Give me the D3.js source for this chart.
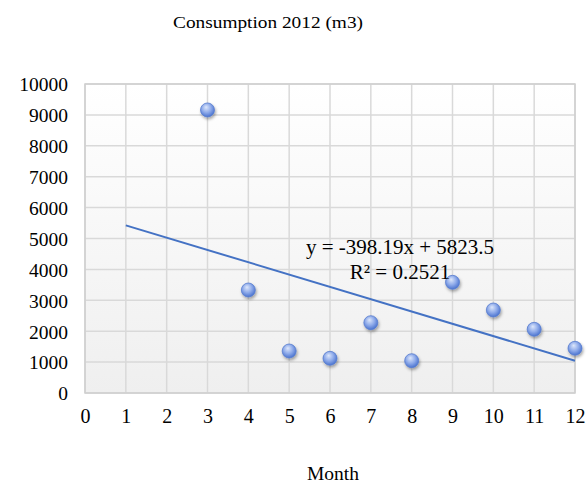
<!DOCTYPE html>
<html>
<head>
<meta charset="utf-8">
<script src="https://cdn.jsdelivr.net/npm/d3@7"></script>
<style>
  html, body { margin: 0; padding: 0; background: #fff; }
  svg text { font-family: "Liberation Serif", "Times New Roman", serif; fill: #000; }
</style>
</head>
<body>
<svg id="chart" width="587" height="486"></svg>
<script>
// Monthly water consumption, 2012 (m3)
const months = [3, 4, 5, 6, 7, 8, 9, 10, 11, 12];
const consumption = [9160, 3333, 1359, 1123, 2275, 1045, 3582, 2686, 2061, 1447];
const xTicks = [0, 1, 2, 3, 4, 5, 6, 7, 8, 9, 10, 11, 12];
const yTicks = [0, 1000, 2000, 3000, 4000, 5000, 6000, 7000, 8000, 9000, 10000];
// Linear trend line
const trendSlope = -398.19;
const trendIntercept = 5823.5;
const trendRange = [1, 12];
const rSquared = "0.2521";

const svg = d3.select("#chart");
const m = { left: 85, right: 12, top: 84, bottom: 93 };
const W = 587, H = 486;

const x = d3.scaleLinear().domain([0, 12]).range([m.left, W - m.right]);
const y = d3.scaleLinear().domain([0, 10000]).range([H - m.bottom, m.top]);

const defs = svg.append("defs");
const bg = defs.append("linearGradient").attr("id", "plotBg")
  .attr("x1", 0).attr("y1", 0).attr("x2", 0).attr("y2", 1);
bg.append("stop").attr("offset", "0%").attr("stop-color", "#ffffff");
bg.append("stop").attr("offset", "100%").attr("stop-color", "#efefef");

const mk = defs.append("radialGradient").attr("id", "marker")
  .attr("cx", "45%").attr("cy", "40%").attr("r", "60%").attr("fx", "40%").attr("fy", "30%");
mk.append("stop").attr("offset", "0%").attr("stop-color", "#dde7fb");
mk.append("stop").attr("offset", "55%").attr("stop-color", "#8fabea");
mk.append("stop").attr("offset", "100%").attr("stop-color", "#4a73cf");

const sh = defs.append("filter").attr("id", "shadow")
  .attr("x", "-50%").attr("y", "-50%").attr("width", "200%").attr("height", "200%");
sh.append("feDropShadow").attr("dx", 1).attr("dy", 2).attr("stdDeviation", 1.6)
  .attr("flood-color", "#000").attr("flood-opacity", 0.35);

// Plot background
svg.append("rect")
  .attr("x", x(0)).attr("y", y(10000))
  .attr("width", x(12) - x(0)).attr("height", y(0) - y(10000))
  .attr("fill", "url(#plotBg)");

// Gridlines
svg.append("g").selectAll("line").data(xTicks).join("line")
  .attr("x1", d => x(d)).attr("x2", d => x(d))
  .attr("y1", y(0)).attr("y2", y(10000))
  .attr("stroke", "#d9d9d9").attr("stroke-width", 1.5);
svg.append("g").selectAll("line").data(yTicks).join("line")
  .attr("x1", x(0)).attr("x2", x(12))
  .attr("y1", d => y(d)).attr("y2", d => y(d))
  .attr("stroke", "#d9d9d9").attr("stroke-width", 1.5);

// Axes
const yAxis = d3.axisLeft(y).tickValues(yTicks).tickSize(0).tickPadding(17).tickFormat(d3.format("d"));
svg.append("g").attr("transform", `translate(${x(0)},0)`).call(yAxis)
  .call(g => g.select(".domain").remove())
  .call(g => g.selectAll("text").attr("font-size", 19.5).attr("dy", "0.35em")
    .style("font-family", "Liberation Serif, serif"));

const xAxis = d3.axisBottom(x).tickValues(xTicks).tickSize(0).tickPadding(16).tickFormat(d3.format("d"));
svg.append("g").attr("transform", `translate(0,${y(0)})`).call(xAxis)
  .call(g => g.select(".domain").remove())
  .call(g => g.selectAll("text").attr("font-size", 20)
    .style("font-family", "Liberation Serif, serif"));

// Plot frame
svg.append("rect")
  .attr("x", x(0)).attr("y", y(10000))
  .attr("width", x(12) - x(0)).attr("height", y(0) - y(10000))
  .attr("fill", "none").attr("stroke", "#cfcfcf").attr("stroke-width", 1.5);

// Trend line
const line = d3.line().x(d => x(d)).y(d => y(trendSlope * d + trendIntercept));
svg.append("path").datum(trendRange)
  .attr("d", line).attr("fill", "none")
  .attr("stroke", "#4472c4").attr("stroke-width", 2);

// Data points
svg.append("g").selectAll("circle").data(months).join("circle")
  .attr("cx", d => x(d))
  .attr("cy", (d, i) => y(consumption[i]))
  .attr("r", 7)
  .attr("fill", "url(#marker)")
  .attr("stroke", "#5b7fcf").attr("stroke-width", 0.8)
  .attr("filter", "url(#shadow)");

// Trend equation
const eq = svg.append("g").attr("text-anchor", "middle").attr("font-size", 21);
eq.append("text").attr("x", 400).attr("y", 254)
  .text(`y = ${trendSlope}x + ${trendIntercept}`);
eq.append("text").attr("x", 400).attr("y", 279)
  .text(`R² = ${rSquared}`);

// Titles
svg.append("text").attr("x", 268).attr("y", 28).attr("text-anchor", "middle")
  .attr("font-size", 17.5).attr("textLength", 190).attr("lengthAdjust", "spacingAndGlyphs")
  .text("Consumption 2012 (m3)");
svg.append("text").attr("x", 333).attr("y", 480).attr("text-anchor", "middle")
  .attr("font-size", 19.5).text("Month");
</script>
</body>
</html>
